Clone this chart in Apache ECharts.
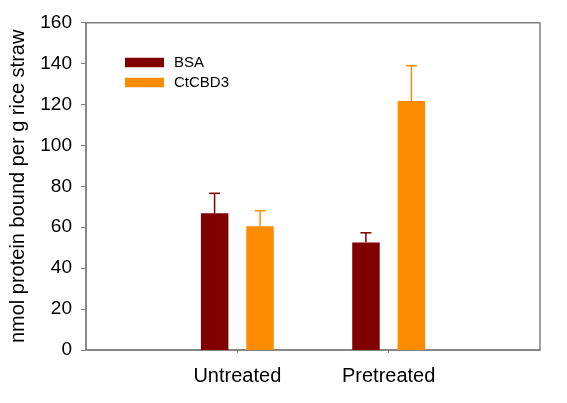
<!DOCTYPE html>
<html><head><meta charset="utf-8">
<script src="https://cdn.jsdelivr.net/npm/echarts@6/dist/echarts.min.js"></script>
<style>html,body{margin:0;padding:0;background:#fff}#c{width:567px;height:403px}</style>
</head><body><div id="c"></div>
<script>
var categories = ['Untreated', 'Pretreated'];
var seriesNames = ['BSA', 'CtCBD3'];
var bsaValues = [66.8, 52.6];
var bsaErrors = [9.8, 4.7];
var ctcbd3Values = [60.5, 121.7];
var ctcbd3Errors = [7.6, 17.3];
var yTicks = [0, 20, 40, 60, 80, 100, 120, 140, 160];

var colors = ['#800000', '#FF8C00'];
var axisColor = '#808080';
var font = 'Liberation Sans, Arial, sans-serif';
var barW = 27.5, halfOffset = 22.75;

var axisCats = [''].concat(categories).concat(['']);
function toData(vals) { return vals.map(function (v, i) { return [i + 1, v]; }); }

function errSeries(name, vals, errs, color, offset) {
  return {
    type: 'custom', name: name + ' err', z: 5,
    data: vals.map(function (v, i) { return [i + 1, v, v + errs[i]]; }),
    renderItem: function (params, api) {
      var p0 = api.coord([api.value(0), api.value(1)]);
      var p1 = api.coord([api.value(0), api.value(2)]);
      var x = p0[0] + offset;
      var cw = 5.5;
      return {
        type: 'group', children: [
          { type: 'line', shape: { x1: x, y1: p0[1], x2: x, y2: p1[1] }, style: { stroke: color, lineWidth: 1.5 } },
          { type: 'line', shape: { x1: x - cw, y1: p1[1], x2: x + cw, y2: p1[1] }, style: { stroke: color, lineWidth: 1.5 } }
        ]
      };
    }
  };
}

var chart = echarts.init(document.getElementById('c'), null, { renderer: 'canvas' });
chart.setOption({
  animation: false,
  backgroundColor: '#fff',
  grid: { left: 85, right: 27, top: 22.7, bottom: 53, show: true, borderColor: axisColor, borderWidth: 1.5, backgroundColor: 'transparent' },
  legend: {
    data: seriesNames, left: 120, top: 50, orient: 'vertical',
    itemWidth: 39, itemHeight: 9.5, itemGap: 5, icon: 'rect',
    textStyle: { fontFamily: font, fontSize: 15, color: '#000', padding: [0, 0, 0, 5] }
  },
  xAxis: {
    type: 'category', data: axisCats, boundaryGap: false,
    axisLine: { lineStyle: { color: axisColor, width: 1.5 } },
    axisTick: { show: true, length: 3, lineStyle: { color: axisColor }, interval: function (idx) { return idx === 1 || idx === 2; } },
    axisLabel: { fontFamily: font, fontSize: 20, color: '#000', margin: 16, interval: 0 },
    splitLine: { show: false }
  },
  yAxis: {
    type: 'value', min: yTicks[0], max: yTicks[yTicks.length - 1], interval: yTicks[1] - yTicks[0],
    name: 'nmol protein bound per g rice straw', nameLocation: 'middle', nameRotate: 90, nameGap: 58,
    nameTextStyle: { fontFamily: font, fontSize: 20, color: '#000' },
    axisLine: { show: true, lineStyle: { color: axisColor, width: 1.5 } },
    axisTick: { show: true, length: 5, lineStyle: { color: axisColor } },
    axisLabel: { fontFamily: font, fontSize: 19, color: '#000', margin: 14 },
    splitLine: { show: false }
  },
  series: [
    { type: 'bar', name: seriesNames[0], data: toData(bsaValues), barWidth: barW, barGap: '65%', itemStyle: { color: colors[0] }, z: 3 },
    { type: 'bar', name: seriesNames[1], data: toData(ctcbd3Values), barWidth: barW, barGap: '65%', itemStyle: { color: colors[1] }, z: 3 },
    errSeries(seriesNames[0], bsaValues, bsaErrors, colors[0], -halfOffset),
    errSeries(seriesNames[1], ctcbd3Values, ctcbd3Errors, colors[1], halfOffset)
  ]
});
</script></body></html>
